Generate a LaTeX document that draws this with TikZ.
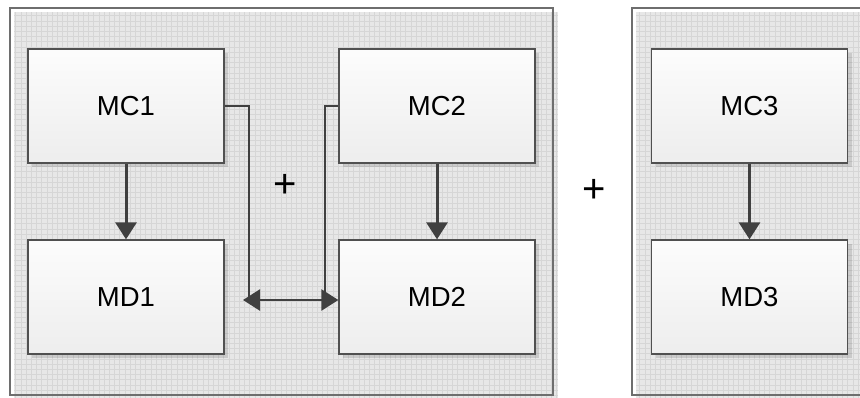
\documentclass[tikz,border=0pt]{standalone}
\usepackage{fontspec}
\setmainfont{Liberation Sans}
\usetikzlibrary{arrows.meta,shadows,calc}
\definecolor{gridbg}{HTML}{E7E7E7}
\definecolor{gridln}{HTML}{D6D6D6}
\definecolor{framecol}{HTML}{6E6E6E}
\definecolor{boxln}{HTML}{505050}
\definecolor{arrcol}{HTML}{404040}
\begin{document}
\begin{tikzpicture}[x=1pt,y=-1pt,
 box/.style={draw=boxln,line width=1.3pt,top color=white!99!black,bottom color=white!93!black,
   minimum width=196pt,minimum height=114pt,inner sep=0pt,font=\fontsize{27.5}{30}\selectfont,
   drop shadow={shadow xshift=4pt,shadow yshift=-4pt,fill=black,opacity=0.12}},
 conn/.style={draw=arrcol,line width=3pt,-{Triangle[length=17pt,width=21pt]}},
 elbow/.style={conn,line width=2.5pt},
 plussign/.style={font=\fontsize{40}{42}\selectfont},
 gridarea/.style={fill=gridbg},
 panelframe/.style={draw=framecol,line width=1.5pt}]
\path[use as bounding box] (0,0) rectangle (860,397);
\begin{scope}
\clip (0,0) rectangle (860,397);
\fill[white] (0,0) rectangle (860,397);
% left panel
\fill[gridarea] (14,12) rectangle (558,399);
\draw[gridln,line width=0.5pt,step=5.2pt] (14,12) grid (558,399);
\draw[panelframe] (10,8) rectangle (553,395);
% right panel
\fill[gridarea] (636,12) rectangle (870,399);
\draw[gridln,line width=0.5pt,step=5.2pt] (636,12) grid (870,399);
\draw[panelframe] (632,8) rectangle (880,395);

\node[box] (MC1) at (126,106) {MC1};
\node[box] (MD1) at (126,297) {MD1};
\node[box] (MC2) at (437,106) {MC2};
\node[box] (MD2) at (437,297) {MD2};
\node[box] (MC3) at (749.5,106) {MC3};
\node[box] (MD3) at (749.5,297) {MD3};

\node[plussign] (p1) at (285,186) {+};
\node[plussign] (p2) at (594,191) {+};

\draw[conn] (MC1.south) -- (MD1.north);
\draw[conn] (MC2.south) -- (MD2.north);
\draw[conn] (MC3.south) -- (MD3.north);

\coordinate (j1) at (249,300);
\coordinate (j2) at (325,300);
\coordinate (e2) at (243,300);
\draw[elbow] (MC1.east) -| (j1) -- (MD2.west |- j1);
\draw[elbow] (MC2.west) -| (j2) -- (e2);
\end{scope}
\end{tikzpicture}
\end{document}
